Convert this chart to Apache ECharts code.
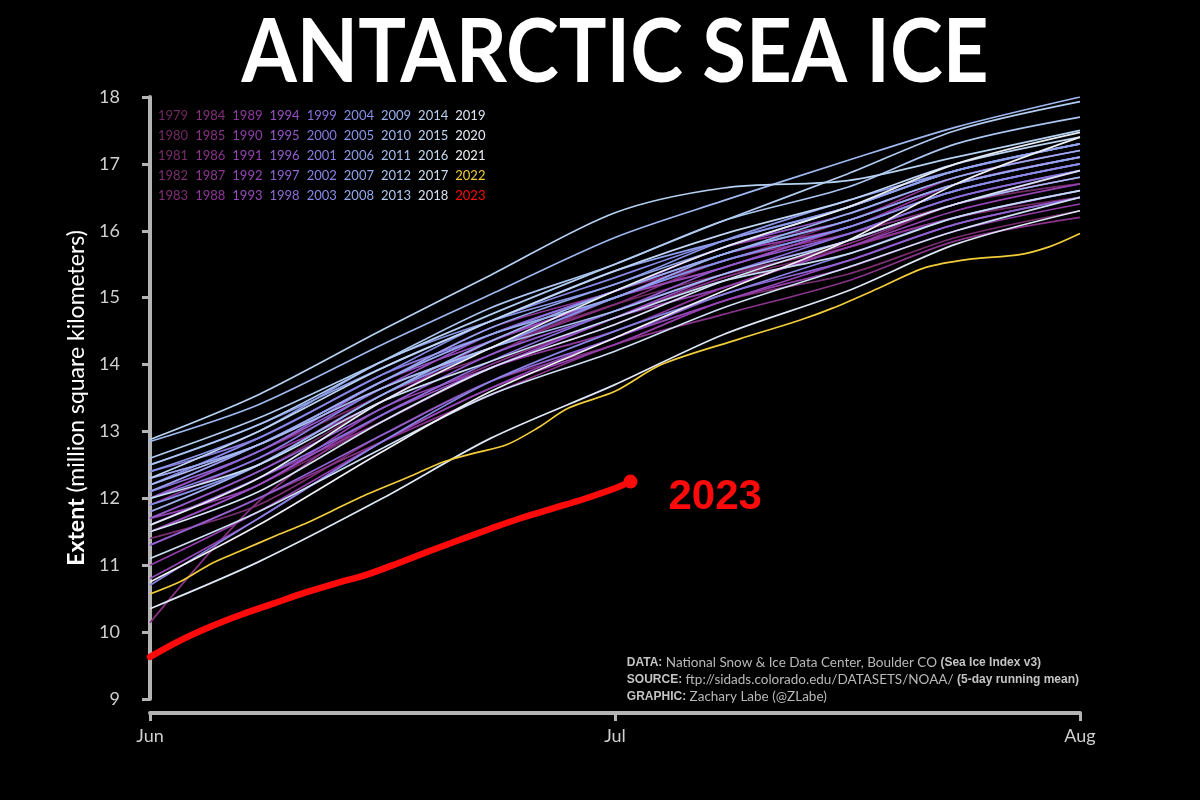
<!DOCTYPE html>
<html><head><meta charset="utf-8">
<script src="https://cdn.jsdelivr.net/npm/echarts@6/dist/echarts.min.js"></script>
<style>html,body{margin:0;background:#000}#c{width:1200px;height:800px}</style>
</head><body><div id="c"></div>
<script>
// Day offsets from Jun 1 (0 = Jun 1, 30 = Jul 1, 60 = Jul 31/Aug)
const days = [0, 7, 15, 22, 30, 37, 45, 52, 60];
const monthLabels = { 0: 'Jun', 30: 'Jul', 60: 'Aug' };

// Sea ice extent (million km²)
const y1979 = [11.70, 12.40, 13.45, 14.25, 14.90, 15.35, 15.75, 16.20, 16.50];
const y1980 = [11.50, 12.20, 13.15, 13.95, 14.60, 15.25, 15.75, 16.40, 16.70];
const y1981 = [12.00, 12.70, 13.55, 14.35, 15.10, 15.55, 16.15, 16.70, 17.10];
const y1982 = [11.40, 11.90, 12.95, 13.75, 14.30, 14.95, 15.35, 15.90, 16.30];
const y1983 = [11.80, 12.50, 13.55, 14.15, 15.00, 15.45, 16.05, 16.60, 17.00];
const y1984 = [12.20, 12.80, 13.65, 14.25, 14.90, 15.55, 15.95, 16.40, 16.90];
const y1985 = [10.14, 11.95, 13.25, 14.00, 14.70, 15.30, 15.80, 16.40, 16.80];
const y1986 = [11.30, 12.00, 12.85, 13.55, 14.30, 14.75, 15.25, 15.85, 16.20];
const y1987 = [12.10, 12.80, 13.75, 14.55, 15.10, 15.75, 16.15, 16.80, 17.20];
const y1988 = [11.60, 12.30, 13.15, 13.95, 14.50, 15.15, 15.75, 16.20, 16.60];
const y1989 = [11.90, 12.60, 13.45, 14.35, 15.00, 15.65, 16.05, 16.70, 17.10];
const y1990 = [11.00, 11.80, 12.85, 13.65, 14.30, 14.95, 15.45, 16.00, 16.40];
const y1991 = [11.70, 12.20, 13.35, 13.95, 14.70, 15.15, 15.75, 16.30, 16.70];
const y1992 = [10.80, 11.70, 12.85, 13.65, 14.40, 14.95, 15.55, 16.10, 16.50];
const y1993 = [12.30, 12.80, 13.75, 14.35, 15.00, 15.45, 16.05, 16.60, 17.00];
const y1994 = [11.50, 12.20, 13.25, 13.95, 14.70, 15.35, 15.85, 16.40, 16.80];
const y1995 = [12.00, 12.70, 13.65, 14.45, 15.10, 15.75, 16.25, 16.80, 17.20];
const y1996 = [11.70, 12.40, 13.35, 14.15, 14.80, 15.45, 15.95, 16.50, 16.90];
const y1997 = [11.30, 12.00, 12.95, 13.75, 14.40, 15.05, 15.55, 16.10, 16.50];
const y1998 = [12.10, 12.70, 13.75, 14.45, 15.10, 15.65, 16.15, 16.70, 17.10];
const y1999 = [11.60, 12.30, 13.25, 14.05, 14.80, 15.35, 15.95, 16.50, 16.90];
const y2000 = [12.40, 12.90, 13.85, 14.45, 15.10, 15.65, 16.15, 16.70, 17.10];
const y2001 = [12.00, 12.60, 13.65, 14.25, 15.00, 15.55, 16.05, 16.60, 17.00];
const y2002 = [10.70, 11.70, 12.85, 13.75, 14.50, 15.05, 15.65, 16.20, 16.60];
const y2003 = [12.20, 12.90, 13.85, 14.65, 15.30, 15.85, 16.35, 16.90, 17.30];
const y2004 = [11.90, 12.50, 13.55, 14.25, 15.00, 15.55, 16.05, 16.60, 17.00];
const y2005 = [12.40, 13.00, 14.05, 14.65, 15.20, 15.85, 16.45, 16.90, 17.30];
const y2006 = [12.50, 13.10, 13.95, 14.65, 15.40, 15.85, 16.35, 16.90, 17.30];
const y2007 = [12.10, 12.80, 13.75, 14.55, 15.20, 15.75, 16.35, 16.90, 17.30];
const y2008 = [12.30, 12.80, 13.75, 14.45, 15.00, 15.65, 16.15, 16.70, 17.10];
const y2009 = [11.80, 12.50, 13.55, 14.35, 15.10, 15.65, 16.25, 16.80, 17.20];
const y2010 = [12.85, 13.40, 14.30, 15.05, 15.90, 16.45, 17.05, 17.55, 18.00];
const y2011 = [12.20, 12.80, 13.65, 14.25, 14.80, 15.35, 15.85, 16.40, 16.80];
const y2012 = [12.50, 13.10, 14.05, 14.85, 15.50, 16.15, 16.65, 17.30, 17.70];
const y2013 = [12.60, 13.20, 14.05, 14.75, 15.50, 16.15, 16.85, 17.50, 17.93];
const y2014 = [12.88, 13.55, 14.52, 15.34, 16.27, 16.64, 16.75, 17.10, 17.50];
const y2015 = [12.30, 13.00, 13.95, 14.65, 15.40, 15.95, 16.45, 17.00, 17.40];
const y2016 = [12.00, 12.50, 13.45, 14.05, 14.70, 15.25, 15.65, 16.20, 16.60];
const y2017 = [11.10, 11.80, 12.75, 13.55, 14.20, 14.85, 15.45, 16.00, 16.50];
const y2018 = [11.50, 12.10, 13.15, 13.95, 14.60, 15.25, 15.85, 16.40, 16.90];
const y2019 = [10.35, 11.05, 12.00, 12.90, 13.70, 14.45, 15.10, 15.80, 16.30];
const y2020 = [11.60, 12.30, 13.45, 14.25, 15.10, 15.75, 16.35, 17.00, 17.47];
const y2021 = [10.75, 11.60, 12.70, 13.60, 14.40, 15.10, 15.85, 16.70, 17.40];

const days2022 = [0, 2, 4, 6, 8, 10, 12, 14, 17, 19, 21, 23, 25, 27, 30, 33, 38, 42, 44, 47, 50, 53, 56, 58, 60];
const y2022 = [10.57, 10.76, 11.03, 11.23, 11.43, 11.62, 11.84, 12.06, 12.35, 12.55, 12.68, 12.80, 13.05, 13.35, 13.60, 14.00, 14.38, 14.67, 14.84, 15.14, 15.45, 15.58, 15.64, 15.76, 15.96];

const days2023 = [0, 2, 4, 6, 8, 10, 12, 14, 16, 18, 20, 22, 24, 26, 28, 30, 31];
const y2023 = [9.63, 9.88, 10.09, 10.27, 10.43, 10.59, 10.73, 10.86, 11.03, 11.21, 11.38, 11.55, 11.71, 11.85, 11.99, 12.15, 12.25];

const histYears = [1979,1980,1981,1982,1983,1984,1985,1986,1987,1988,1989,1990,1991,1992,1993,1994,1995,1996,1997,1998,1999,2000,2001,2002,2003,2004,2005,2006,2007,2008,2009,2010,2011,2012,2013,2014,2015,2016,2017,2018,2019,2020,2021];
const histValues = [y1979,y1980,y1981,y1982,y1983,y1984,y1985,y1986,y1987,y1988,y1989,y1990,y1991,y1992,y1993,y1994,y1995,y1996,y1997,y1998,y1999,y2000,y2001,y2002,y2003,y2004,y2005,y2006,y2007,y2008,y2009,y2010,y2011,y2012,y2013,y2014,y2015,y2016,y2017,y2018,y2019,y2020,y2021];

// ---- styling ----
const stops = [[1979,[110,40,96]],[1984,[132,48,124]],[1989,[145,56,162]],[1994,[152,80,196]],[1999,[138,112,220]],[2004,[134,144,232]],[2009,[152,178,238]],[2014,[182,210,242]],[2021,[238,240,246]]];
function yearColor(y){
  for (let i=0;i<stops.length-1;i++){
    const [a,ca]=stops[i],[b,cb]=stops[i+1];
    if (y>=a && y<=b){
      const t=(y-a)/(b-a);
      const c=ca.map((v,k)=>Math.round(v+(cb[k]-v)*t));
      return 'rgb('+c.join(',')+')';
    }
  }
  return 'rgb(238,240,246)';
}
const COLOR_2022 = '#f2cc3a';
const COLOR_2023 = '#ff0a0a';
function colorOf(y){ return y===2022?COLOR_2022:(y===2023?COLOR_2023:yearColor(y)); }

const series = histYears.map((yr,i)=>({
  name: String(yr), type:'line', smooth:0.3, symbol:'none', silent:true,
  data: days.map((d,j)=>[d, histValues[i][j]]),
  lineStyle:{width:1.7, color: yearColor(yr)}, itemStyle:{color: yearColor(yr)}
}));
series.push({
  name:'2022', type:'line', smooth:0.3, symbol:'none', silent:true,
  data: days2022.map((d,j)=>[d, y2022[j]]),
  lineStyle:{width:1.7, color:COLOR_2022}, itemStyle:{color:COLOR_2022}
});
series.push({
  name:'2023', type:'line', smooth:0.3, silent:true,
  symbol:'circle',
  symbolSize:(v,p)=> p.dataIndex===days2023.length-1 ? 14 : 0,
  showAllSymbol:true,
  data: days2023.map((d,j)=>[d, y2023[j]]),
  lineStyle:{width:6.5, color:COLOR_2023, cap:'round'}, itemStyle:{color:COLOR_2023},
  endLabel:{show:true, formatter:'2023', color:COLOR_2023, fontSize:42, fontWeight:'bold',
    fontFamily:'Liberation Sans, Arial, sans-serif', distance:38, offset:[0,16]},
  z:5
});

// legend: 5 rows x 9 columns, column-major by year
const legendData = [];
for (let r=0;r<5;r++) for (let c=0;c<9;c++){
  const yr = 1979 + c*5 + r;
  legendData.push({name:String(yr), icon:'none', textStyle:{color: colorOf(yr)}});
}

const axisGray = '#b4b4b4';
const chart = echarts.init(document.getElementById('c'), null, {renderer:'canvas'});
chart.setOption({
  animation:false,
  backgroundColor:'#000',
  grid:{left:150, right:120, top:97, bottom:101},
  legend:{
    data: legendData, left:148, top:102, width:345, orient:'horizontal',
    itemWidth:0, itemHeight:10, itemGap:2, selectedMode:false,
    textStyle:{fontFamily:'Lato, sans-serif', fontSize:13, lineHeight:18, padding:0}
  },
  xAxis:{
    type:'value', min:0, max:60, interval:30, offset:14,
    axisLine:{show:true, lineStyle:{color:axisGray, width:4}},
    axisTick:{show:true, length:8, lineStyle:{color:axisGray, width:3}},
    axisLabel:{color:'#cfcfcf', fontSize:18, fontFamily:'Lato, sans-serif', margin:14,
      formatter:v=>monthLabels[v] || ''},
    splitLine:{show:false}
  },
  yAxis:{
    type:'value', min:9, max:18, interval:1, offset:14,
    name:'{b|Extent} (million square kilometers)', nameLocation:'middle', nameGap:38,
    nameTextStyle:{color:'#ffffff', fontSize:23, fontFamily:'Lato, sans-serif',
      rich:{b:{fontWeight:'bold', fontSize:23, color:'#ffffff', fontFamily:'Lato, sans-serif'}}},
    axisLine:{show:true, lineStyle:{color:axisGray, width:4}},
    axisTick:{show:true, length:8, lineStyle:{color:axisGray, width:3}},
    axisLabel:{color:'#cfcfcf', fontSize:18, fontFamily:'Lato, sans-serif', margin:16},
    splitLine:{show:false}
  },
  graphic:[
    {type:'text', x:615, y:10, scaleX:0.905, style:{text:'ANTARCTIC SEA ICE', fill:'#ffffff', align:'center',
      font:'bold 88px Lato, sans-serif'}},
    {type:'text', right:121, top:654, style:{
      text:'{b|DATA:} National Snow & Ice Data Center, Boulder CO {b|(Sea Ice Index v3)}\n{b|SOURCE:} ftp://sidads.colorado.edu/DATASETS/NOAA/ {b|(5-day running mean)}\n{b|GRAPHIC:} Zachary Labe (@ZLabe)',
      fill:'#b8b8b8', font:'13.5px Lato, sans-serif', align:'right', lineHeight:17,
      rich:{b:{fontWeight:'bold', fill:'#c4c4c4', font:'bold 13.5px Lato, sans-serif'}}
    }}
  ],
  series: series
});
</script></body></html>
